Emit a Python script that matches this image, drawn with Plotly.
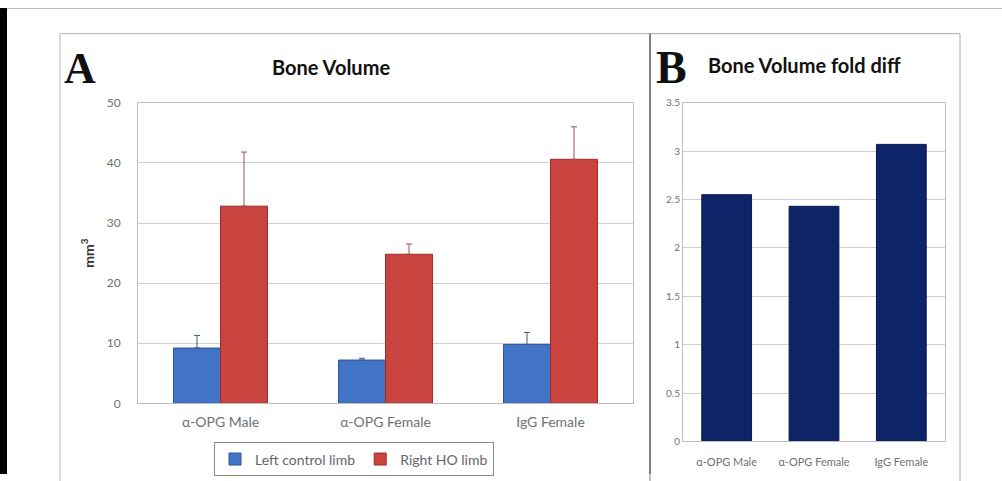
import plotly.graph_objects as go

W, H = 1002, 481

categories_a = ["α-OPG Male", "α-OPG Female", "IgG Female"]
left_control = [9.2, 7.2, 9.8]
left_err = [2.1, 0.3, 2.0]
right_ho = [32.8, 24.8, 40.6]
right_err = [9.0, 1.7, 5.4]

categories_b = ["α-OPG Male", "α-OPG Female", "IgG Female"]
fold_diff = [2.55, 2.43, 3.07]

ticks_a = [0, 10, 20, 30, 40, 50]
ticks_b = [0, 0.5, 1, 1.5, 2, 2.5, 3, 3.5]
ticks_b_text = ["0", "0.5", "1", "1.5", "2", "2.5", "3", "3.5"]

# the photographed page is shifted/squeezed vertically (~8 px top, x0.967);
# layout positions are given in target pixels and mapped back here
OFF_Y, SC_Y = 8.4, 0.967


def px(x):
    return x / W


def py(y):
    page = (y - OFF_Y) / SC_Y
    return 1 - page / H


fig = go.Figure()

fig.add_trace(go.Bar(
    x=categories_a, y=left_control, name="Left control limb",
    marker=dict(color="#4174C4", line=dict(color="#2F5597", width=1)),
    error_y=dict(type="data", array=left_err, arrayminus=[0, 0, 0], symmetric=False,
                 color="#3A5A8C", thickness=1, width=3),
    xaxis="x", yaxis="y",
))
fig.add_trace(go.Bar(
    x=categories_a, y=right_ho, name="Right HO limb",
    marker=dict(color="#C9443F", line=dict(color="#A02A2A", width=1)),
    error_y=dict(type="data", array=right_err, arrayminus=[0, 0, 0], symmetric=False,
                 color="#A05050", thickness=1, width=3),
    xaxis="x", yaxis="y",
))
fig.add_trace(go.Bar(
    x=categories_b, y=fold_diff, name="fold diff", showlegend=False,
    marker=dict(color="#0E2468", line=dict(color="#0A1A50", width=1)),
    xaxis="x2", yaxis="y2",
))

axis_font = dict(family="Lato, Open Sans, sans-serif", color="#707070")

fig.update_layout(
    width=W, height=H,
    margin=dict(l=0, r=0, t=0, b=0),
    paper_bgcolor="white", plot_bgcolor="white",
    barmode="group", bargap=0.43, bargroupgap=0,
    showlegend=True,
    legend=dict(orientation="h", x=px(354), y=py(459), xanchor="center", yanchor="middle",
                bordercolor="#8a8a8a", borderwidth=1, bgcolor="white",
                font=dict(family="Lato, Open Sans, sans-serif", size=14, color="#666666"),
                itemwidth=30, tracegroupgap=0),
    xaxis=dict(domain=[px(138), px(633)], anchor="y", showline=True, linecolor="#bdbdbd",
               mirror=True, ticks="", tickfont=dict(size=14, **axis_font), showgrid=False,
               ticklabelstandoff=6),
    yaxis=dict(domain=[py(403), py(103)], anchor="x", range=[0, 50], tickvals=ticks_a,
               showline=True, linecolor="#bdbdbd", mirror=True, showgrid=True,
               gridcolor="#cfcfcf", gridwidth=1, tickfont=dict(size=12, **axis_font),
               ticks="", zeroline=False, ticklabelstandoff=14,
               title=dict(text="<b>mm<sup>3</sup></b>", standoff=8,
                          font=dict(size=14, family="Lato, sans-serif", color="#333333"))),
    xaxis2=dict(domain=[px(683), px(945)], anchor="y2", showline=True, linecolor="#bdbdbd",
                mirror=True, ticks="", tickfont=dict(size=11, **axis_font), showgrid=False,
                ticklabelstandoff=10),
    yaxis2=dict(domain=[py(441), py(103)], anchor="x2", range=[0, 3.5], tickvals=ticks_b,
                ticktext=ticks_b_text, showline=True, linecolor="#bdbdbd", mirror=True,
                showgrid=True, gridcolor="#cfcfcf", gridwidth=1,
                tickfont=dict(size=10, **axis_font), ticks="", zeroline=False),
)

shapes = [
    dict(type="rect", xref="paper", yref="paper", x0=0, x1=1, y0=py(8.6), y1=1,
         fillcolor="black", line=dict(width=0)),
    dict(type="rect", xref="paper", yref="paper", x0=0, x1=px(7), y0=0, y1=1,
         fillcolor="black", line=dict(width=0)),
    dict(type="rect", xref="paper", yref="paper", x0=px(60), x1=px(650), y0=-0.1, y1=py(34),
         line=dict(color="#b5b5b5", width=1)),
    dict(type="rect", xref="paper", yref="paper", x0=px(650), x1=px(960), y0=-0.1, y1=py(34),
         line=dict(color="#a8a8a8", width=1)),
    dict(type="line", xref="paper", yref="paper", x0=px(650), x1=px(650), y0=0, y1=py(34),
         line=dict(color="#808080", width=2)),
]
fig.update_layout(shapes=shapes)

annotations = [
    dict(text="<b>A</b>", x=px(62), y=py(69), xref="paper", yref="paper", xanchor="left",
         yanchor="middle", showarrow=False,
         font=dict(family="Liberation Serif, serif", size=44, color="#111111")),
    dict(text="<b>Bone Volume</b>", x=px(331), y=py(67), xref="paper", yref="paper",
         xanchor="center", yanchor="middle", showarrow=False,
         font=dict(family="Lato, sans-serif", size=20, color="#111111")),
    dict(text="<b>B</b>", x=px(654), y=py(68), xref="paper", yref="paper", xanchor="left",
         yanchor="middle", showarrow=False,
         font=dict(family="Liberation Serif, serif", size=46, color="#111111")),
    dict(text="<b>Bone Volume fold diff</b>", x=px(804), y=py(65), xref="paper", yref="paper",
         xanchor="center", yanchor="middle", showarrow=False,
         font=dict(family="Lato, sans-serif", size=20, color="#111111")),
]
fig.update_layout(annotations=annotations)

post = (
    "document.body.style.margin='0px';"
    "document.body.style.padding='0px';"
    "document.body.style.overflow='hidden';"
)

fig.write_html("out.html", config={"displayModeBar": False}, post_script=post)
